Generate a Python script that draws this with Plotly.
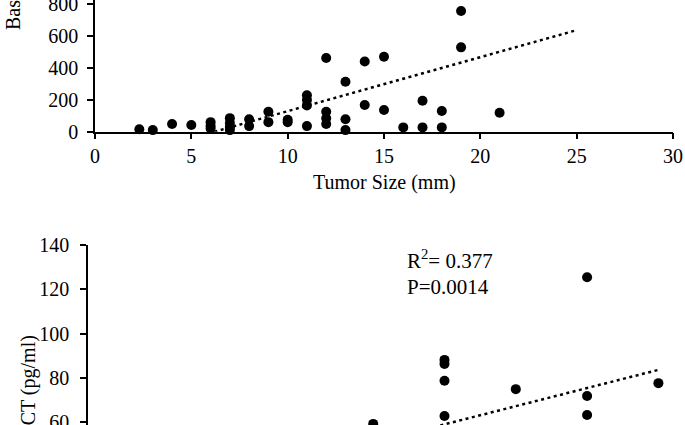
import plotly.graph_objects as go

# ---- Top panel data: Tumor size (mm) vs Basal CT (pg/ml)
top_x = [2.3, 3, 4, 5, 6, 6, 6, 7, 7, 7, 7, 8, 8, 9, 9, 10, 10,
         11, 11, 11, 11, 12, 12, 12, 12, 13, 13, 13, 14, 14, 15, 15,
         16, 17, 17, 18, 18, 19, 19, 21]
top_y = [15, 10, 48, 42, 60, 36, 20, 85, 55, 30, 10, 78, 35, 125, 60, 75, 60,
         228, 199, 165, 35, 462, 125, 84, 48, 313, 78, 10, 440, 167, 470, 136,
         27, 194, 27, 130, 27, 757, 529, 119]
top_trend_x = [6.2, 25]
top_trend_y = [0, 637]
top_xticks = [0, 5, 10, 15, 20, 25, 30]
top_yticks = [0, 200, 400, 600, 800]

# ---- Bottom panel data
bot_x = [4, 5, 5, 5, 5, 6, 7, 7, 7, 8, 8]
bot_y = [59.2, 88.1, 86.3, 78.7, 62.8, 74.9, 125.4, 71.8, 63.2, 77.6, 57.4]
bot_trend_x = [4.5, 8]
bot_trend_y = [54.9, 83.6]
bot_yticks = [60, 80, 100, 120, 140]

W, H = 685, 425
FONT = "Liberation Serif, Times New Roman, serif"

fig = go.Figure()
fig.add_trace(go.Scatter(x=top_x, y=top_y, mode="markers", xaxis="x", yaxis="y",
                         marker=dict(color="black", size=10), cliponaxis=False))
fig.add_trace(go.Scatter(x=top_trend_x, y=top_trend_y, mode="lines", xaxis="x", yaxis="y",
                         line=dict(color="black", width=2.5, dash="3px,3.5px")))
fig.add_trace(go.Scatter(x=bot_x, y=bot_y, mode="markers", xaxis="x2", yaxis="y2",
                         marker=dict(color="black", size=10), cliponaxis=False))
fig.add_trace(go.Scatter(x=bot_trend_x, y=bot_trend_y, mode="lines", xaxis="x2", yaxis="y2",
                         line=dict(color="black", width=2.5, dash="3px,3.5px")))

axis_common = dict(showgrid=False, zeroline=False, showline=True, linecolor="black",
                   linewidth=1.5, ticks="outside", ticklen=6, tickcolor="black",
                   tickwidth=1.5, automargin=False, ticklabeloverflow="allow",
                   tickfont=dict(family=FONT, size=20, color="black"))

fig.update_layout(
    width=W, height=H, margin=dict(l=0, r=0, t=0, b=0, autoexpand=False),
    paper_bgcolor="white", plot_bgcolor="white", showlegend=False,
    xaxis=dict(domain=[95 / W, 673 / W], range=[0, 30], tickvals=top_xticks,
               anchor="y", ticklabelstandoff=0, **axis_common),
    yaxis=dict(domain=[(H - 131.7) / H, 1], range=[0, 826], tickvals=top_yticks,
               anchor="x", ticklabelstandoff=5, **axis_common),
    xaxis2=dict(domain=[88 / W, 1], range=[0, (W - 88) / 71.3], visible=False,
                anchor="y2", automargin=False),
    yaxis2=dict(domain=[0, (H - 245) / H], range=[58.7, 140], tickvals=bot_yticks,
                anchor="x2", ticklabelstandoff=7, **axis_common),
)

ann_font = dict(family=FONT, size=20, color="black")
fig.add_annotation(text="Tumor Size (mm)", xref="paper", yref="paper",
                   x=384 / W, y=(H - 183) / H, showarrow=False,
                   xanchor="center", yanchor="middle", font=ann_font)
fig.add_annotation(text="Basal CT (pg/ml)", xref="paper", yref="paper",
                   x=13 / W, y=(H - 32) / H, showarrow=False, textangle=-90,
                   xanchor="center", yanchor="bottom", font=ann_font)
fig.add_annotation(text="Stimulated CT (pg/ml)", xref="paper", yref="paper",
                   x=28 / W, y=(H - 333) / H, showarrow=False, textangle=-90,
                   xanchor="center", yanchor="top", font=ann_font)
fig.add_annotation(text="R<sup>2</sup>= 0.377", xref="paper", yref="paper",
                   x=405 / W, y=(H - 259) / H, showarrow=False,
                   xanchor="left", yanchor="middle", font=dict(family=FONT, size=21, color="black"))
fig.add_annotation(text="P=0.0014", xref="paper", yref="paper",
                   x=405 / W, y=(H - 287) / H, showarrow=False,
                   xanchor="left", yanchor="middle", font=dict(family=FONT, size=21, color="black"))

fig.write_html("out.html", config={"displayModeBar": False},
               post_script="document.body.style.margin='0px';document.body.style.overflow='hidden';")
